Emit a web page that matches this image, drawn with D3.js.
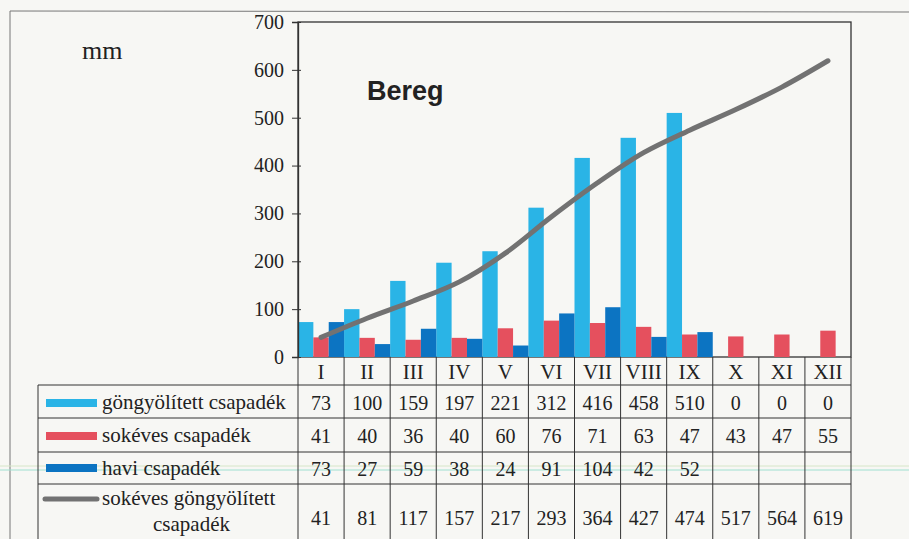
<!DOCTYPE html>
<html>
<head>
<meta charset="utf-8">
<script src="https://cdn.jsdelivr.net/npm/d3@7/dist/d3.min.js"></script>
<style>
  body { margin: 0; background: #f7f7f4; }
  svg { display: block; }
  .serif { font-family: "Liberation Serif", "DejaVu Serif", serif; fill: #222; }
</style>
</head>
<body>
<div id="chart"></div>
<script>
    // data
    var months = ["I", "II", "III", "IV", "V", "VI", "VII", "VIII", "IX", "X", "XI", "XII"];
    var cumulative = [73, 100, 159, 197, 221, 312, 416, 458, 510, 0, 0, 0];
    var longTerm = [41, 40, 36, 40, 60, 76, 71, 63, 47, 43, 47, 55];
    var monthly = [73, 27, 59, 38, 24, 91, 104, 42, 52, null, null, null];
    var longTermCum = [41, 81, 117, 157, 217, 293, 364, 427, 474, 517, 564, 619];
    var yTicks = [0, 100, 200, 300, 400, 500, 600, 700];

    var seriesNames = ["göngyölített csapadék", "sokéves csapadék", "havi csapadék", "sokéves göngyölített"];
    var colors = ["#2ab4e6", "#e5505e", "#0c74c2", "#727272"];

    var W = 909, H = 539;
    var plotLeft = 298, plotRight = 851, plotTop = 22, zeroY = 357;
    var serifFont = "Liberation Serif, DejaVu Serif, serif";

    var svg = d3.select("#chart").append("svg")
        .attr("width", W)
        .attr("height", H);

    var x = d3.scaleBand().domain(months).range([plotLeft, plotRight]);
    var sub = d3.scaleBand().domain([0, 1, 2]).range([0, x.bandwidth()]);
    var y = d3.scaleLinear().domain([0, 700]).range([zeroY, plotTop]);

    // outer frame (page)
    svg.append("line").attr("x1", 10).attr("x2", W).attr("y1", 11).attr("y2", 12)
        .attr("stroke", "#777").attr("stroke-width", 1);
    svg.append("line").attr("x1", 10).attr("x2", 10).attr("y1", 11).attr("y2", H)
        .attr("stroke", "#777").attr("stroke-width", 1);

    // scan artefact lines
    svg.append("line").attr("x1", 0).attr("x2", W).attr("y1", 466).attr("y2", 466)
        .attr("stroke", "#d6e6c8").attr("stroke-width", 1);
    svg.append("line").attr("x1", 0).attr("x2", W).attr("y1", 470).attr("y2", 470)
        .attr("stroke", "#9fe0d0").attr("stroke-width", 1);

    // plot frame
    svg.append("rect")
        .attr("x", plotLeft).attr("y", plotTop)
        .attr("width", plotRight - plotLeft).attr("height", zeroY - plotTop)
        .attr("fill", "none").attr("stroke", "#333").attr("stroke-width", 1.3);

    // bars
    var groups = [cumulative, longTerm, monthly];
    groups.forEach(function(vals, k) {
        var data = vals.map(function(v, i) { return { m: months[i], v: v }; })
            .filter(function(d) { return d.v != null && d.v > 0; });
        svg.append("g").selectAll("rect")
            .data(data)
            .enter().append("rect")
            .attr("x", function(d) { return x(d.m) + sub(k); })
            .attr("y", function(d) { return y(d.v); })
            .attr("width", sub.bandwidth())
            .attr("height", function(d) { return zeroY - y(d.v); })
            .attr("fill", colors[k]);
    });

    // long-term cumulative line
    var line = d3.line()
        .x(function(d, i) { return x(months[i]) + x.bandwidth() / 2; })
        .y(function(d) { return y(d); })
        .curve(d3.curveCatmullRom);

    svg.append("path")
        .datum(longTermCum)
        .attr("d", line)
        .attr("fill", "none")
        .attr("stroke", colors[3])
        .attr("stroke-width", 5)
        .attr("stroke-linecap", "round");

    // y axis
    var yAxis = svg.append("g")
        .attr("transform", "translate(" + plotLeft + ",0)")
        .call(d3.axisLeft(y).tickValues(yTicks).tickSize(6).tickPadding(8))
        .attr("font-family", serifFont)
        .attr("font-size", 20);
    yAxis.select(".domain").attr("stroke", "#333").attr("stroke-width", 1.3);
    yAxis.selectAll(".tick line").attr("x1", 3).attr("stroke", "#333");
    yAxis.selectAll(".tick text").attr("fill", "#222");

    svg.append("text").attr("class", "serif")
        .attr("x", 82).attr("y", 59)
        .style("font-size", "26px")
        .text("mm");

    svg.append("text")
        .attr("x", 367).attr("y", 100)
        .style("font-family", "'Liberation Sans', Arial, sans-serif")
        .style("font-weight", "bold")
        .style("font-size", "27px")
        .attr("fill", "#222")
        .text("Bereg");

    // data table
    var rowLines = [385, 418, 452, 484];
    var tableLeft = 38;
    var grid = svg.append("g").attr("stroke", "#333").attr("stroke-width", 1);

    rowLines.forEach(function(yy) {
        grid.append("line").attr("x1", tableLeft).attr("x2", plotRight).attr("y1", yy).attr("y2", yy);
    });
    grid.append("line").attr("x1", tableLeft).attr("x2", tableLeft).attr("y1", 385).attr("y2", H);
    months.forEach(function(m) {
        grid.append("line").attr("x1", x(m)).attr("x2", x(m)).attr("y1", zeroY).attr("y2", H);
    });
    grid.append("line").attr("x1", plotRight).attr("x2", plotRight).attr("y1", zeroY).attr("y2", H);

    // month header
    svg.append("g").selectAll("text")
        .data(months)
        .enter().append("text")
        .attr("class", "serif")
        .attr("x", function(d) { return x(d) + x.bandwidth() / 2; })
        .attr("y", 379)
        .attr("text-anchor", "middle")
        .style("font-size", "21px")
        .text(function(d) { return d; });

    var rows = [cumulative, longTerm, monthly, longTermCum];
    var rowBase = [410, 443, 476, 525];
    rows.forEach(function(vals, r) {
        svg.append("g").selectAll("text")
            .data(vals)
            .enter().append("text")
            .attr("class", "serif")
            .attr("x", function(d, i) { return x(months[i]) + x.bandwidth() / 2; })
            .attr("y", rowBase[r])
            .attr("text-anchor", "middle")
            .style("font-size", "20px")
            .text(function(d) { return d == null ? "" : d; });
    });

    // legend cells
    var swatchY = [403, 436, 468, 499];
    for (var k = 0; k < 3; k++) {
        svg.append("rect")
            .attr("x", 46).attr("y", swatchY[k] - 4)
            .attr("width", 51).attr("height", 8)
            .attr("fill", colors[k]);
        svg.append("text").attr("class", "serif")
            .attr("x", 102).attr("y", rowBase[k] - 1)
            .style("font-size", "21px")
            .text(seriesNames[k]);
    }
    svg.append("line")
        .attr("x1", 45).attr("x2", 97)
        .attr("y1", swatchY[3]).attr("y2", swatchY[3])
        .attr("stroke", colors[3]).attr("stroke-width", 5)
        .attr("stroke-linecap", "round");
    svg.append("text").attr("class", "serif")
        .attr("x", 102).attr("y", 505)
        .style("font-size", "21px")
        .text(seriesNames[3]);
    svg.append("text").attr("class", "serif")
        .attr("x", 153).attr("y", 531)
        .style("font-size", "21px")
        .text("csapadék");
</script>
</body>
</html>
